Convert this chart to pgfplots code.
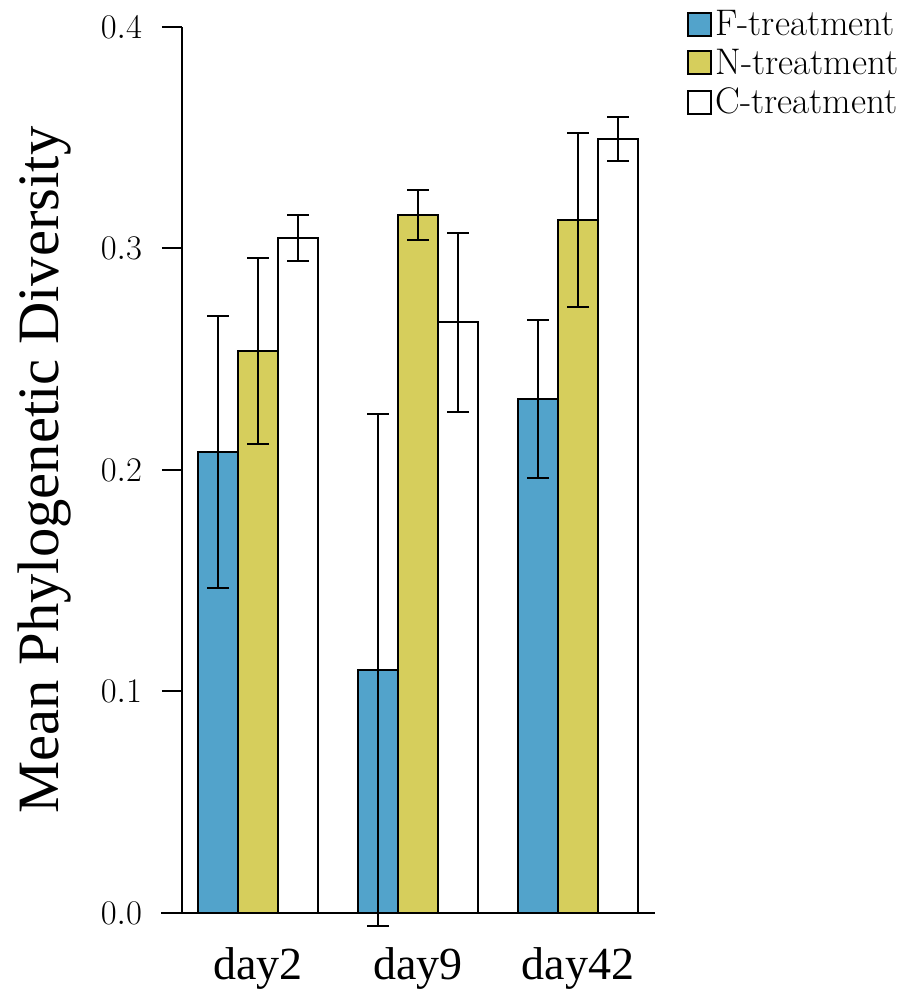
\documentclass[border=0pt]{standalone}
\usepackage{pgfplots}
\pgfplotsset{compat=1.18}
\usepackage{fontspec}
\newfontfamily\libser{Liberation Serif}
\definecolor{fblue}{HTML}{52A3CB}
\definecolor{nyel}{HTML}{D6CE5C}
\pgfplotstableread{
x y e
0.75 0.2081 0.0614
1.75 0.1097 0.1156
2.75 0.2320 0.0357
}\Ftab
\pgfplotstableread{
x y e
1.00 0.2537 0.0420
2.00 0.3151 0.0113
3.00 0.3129 0.0392
}\Ntab
\pgfplotstableread{
x y e
1.25 0.3047 0.0102
2.25 0.2668 0.0404
3.25 0.3494 0.0100
}\Ctab
\begin{document}
\begin{tikzpicture}
\useasboundingbox (-91pt,-39pt) rectangle (364.5pt,456.5pt);
\begin{axis}[
 at={(0,0)}, anchor=south west, scale only axis,
 width=236.5pt, height=443pt,
 xmin=0.525, xmax=3.48, ymin=0, ymax=0.4,
 clip=false,
 axis y line*=left, axis x line*=bottom,
 axis line style={-},
 x axis line style={draw=none},
 y axis line style={line width=1pt},
 xtick={1,2,3}, xticklabels={day2,day9,day42},
 major x tick style={draw=none},
 ytick={0,0.1,0.2,0.3,0.4},
 major y tick style={line width=1pt, black},
 tick align=outside, major tick length=10pt,
 yticklabel style={font=\fontsize{16}{16}\selectfont, xshift=-6.5pt, /pgf/number format/.cd, fixed, fixed zerofill, precision=1},
 xticklabel style={font=\libser\fontsize{23}{23}\selectfont, anchor=base, yshift=-23pt},
 ylabel={Mean Phylogenetic Diversity},
 ylabel style={font=\libser\fontsize{29.3}{29.3}\selectfont, at={(axis description cs:-0.262,0.5)}, anchor=base},
 legend style={at={(rel axis cs:1.0677,1.023)}, anchor=north west, draw=none, fill=none, inner sep=0pt, row sep=2.3pt, font=\fontsize{18.5}{18.5}\selectfont, nodes={inner sep=1.5pt}},
 legend cell align=left,
 error bars/error bar style={line width=1pt, black},
 error bars/error mark options={rotate=90, mark size=5.5pt, line width=1pt, black},
]
\addlegendimage{legend image code/.code={\draw[fill=fblue, line width=1pt] (0pt,-5.75pt) rectangle (11.5pt,5.75pt);}}
\addlegendentry{F-treatment}
\addlegendimage{legend image code/.code={\draw[fill=nyel, line width=1pt] (0pt,-5.75pt) rectangle (11.5pt,5.75pt);}}
\addlegendentry{N-treatment}
\addlegendimage{legend image code/.code={\draw[fill=white, line width=1pt] (0pt,-5.75pt) rectangle (11.5pt,5.75pt);}}
\addlegendentry{C-treatment}
\addplot[forget plot, ybar, bar width=0.25, bar shift=0pt, fill=fblue, draw=black, line width=1pt,
 error bars/.cd, y dir=both, y explicit] table[x=x, y=y, y error=e] {\Ftab};
\addplot[forget plot, ybar, bar width=0.25, bar shift=0pt, fill=nyel, draw=black, line width=1pt,
 error bars/.cd, y dir=both, y explicit] table[x=x, y=y, y error=e] {\Ntab};
\addplot[forget plot, ybar, bar width=0.25, bar shift=0pt, fill=white, draw=black, line width=1pt,
 error bars/.cd, y dir=both, y explicit] table[x=x, y=y, y error=e] {\Ctab};
\draw[line width=1pt] (axis cs:0.394,0) -- (axis cs:3.48,0);
\end{axis}
\end{tikzpicture}
\end{document}
